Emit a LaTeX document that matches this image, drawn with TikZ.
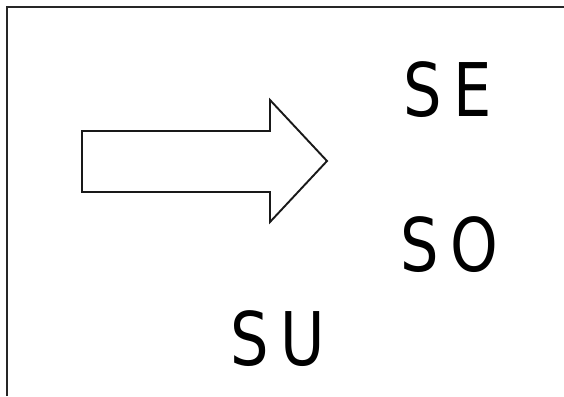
\documentclass[tikz,border=0pt]{standalone}
\usepackage{fontspec}
\setmainfont{DejaVu Sans}
\newfontfamily\lbl[FakeStretch=0.82]{DejaVu Sans}
\begin{document}
\begin{tikzpicture}[x=1pt,y=1pt,
  lab/.style={inner sep=0pt,font=\lbl\fontsize{74}{80}\selectfont},
  frame/.style={line width=2.8pt,draw=black!85},
  bigarrow/.style={line width=1.9pt,draw=black!90,line join=miter}]
\useasboundingbox (0,0) rectangle (564,-396);
\draw[frame] (7,-396) -- (7,-7) -- (564,-7);
\draw[bigarrow] (82,-131) -- (270,-131) -- (270,-100) -- (327,-161)
  -- (270,-222) -- (270,-192) -- (82,-192) -- cycle;
\node[lab] (se) at (447.5,-89.5) {S\kern11pt E};
\node[lab] (so) at (449.5,-245) {S\kern11pt O};
\node[lab] (su) at (277.5,-339) {S\kern11pt U};
\end{tikzpicture}
\end{document}
